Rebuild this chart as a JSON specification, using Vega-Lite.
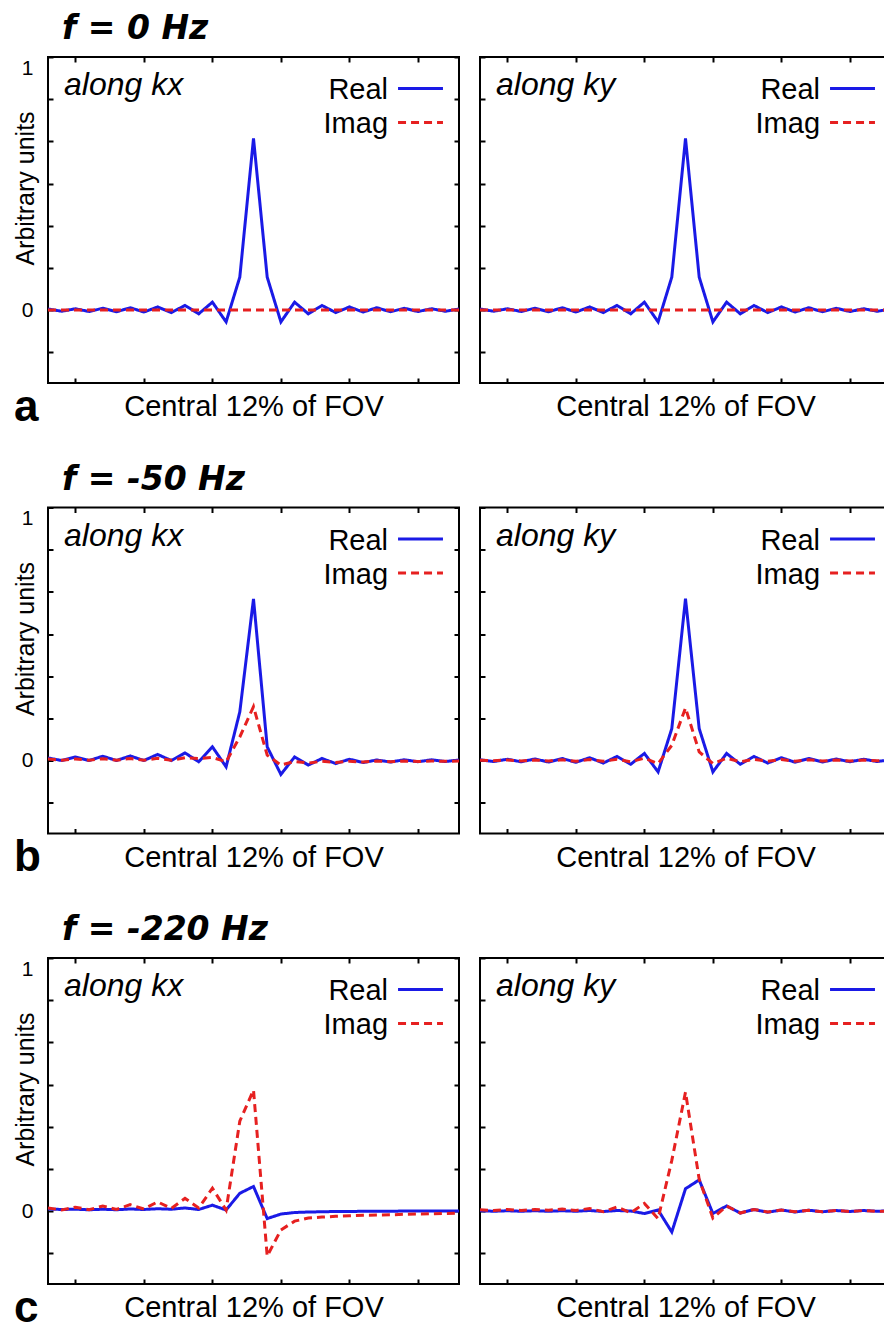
{
"$schema": "https://vega.github.io/schema/vega-lite/v6.json",
"padding": {"left": 12, "top": 13, "right": 0, "bottom": 0},
"config": {
 "view": {"stroke": "black", "strokeWidth": 2},
 "font": "Liberation Sans",
 "axis": {"domain": false, "grid": false, "tickSize": -5, "tickWidth": 2, "tickColor": "black", "labelColor": "black", "titleColor": "black", "labelFont": "Liberation Sans", "titleFont": "Liberation Sans", "titleFontWeight": "normal", "minExtent": 0},
 "text": {"font": "Liberation Sans", "fontSize": 29, "color": "black"},
 "line": {"strokeWidth": 3}
},
"datasets": {
 "akx": [
  {"s":"Real","i":0,"v":0.004},{"s":"Real","i":1,"v":-0.005},{"s":"Real","i":2,"v":0.005},{"s":"Real","i":3,"v":-0.006},{"s":"Real","i":4,"v":0.007},{"s":"Real","i":5,"v":-0.007},{"s":"Real","i":6,"v":0.009},{"s":"Real","i":7,"v":-0.008},{"s":"Real","i":8,"v":0.012},{"s":"Real","i":9,"v":-0.01},{"s":"Real","i":10,"v":0.018},{"s":"Real","i":11,"v":-0.015},{"s":"Real","i":12,"v":0.031},{"s":"Real","i":13,"v":-0.047},{"s":"Real","i":14,"v":0.13},{"s":"Real","i":15,"v":0.678},{"s":"Real","i":16,"v":0.13},{"s":"Real","i":17,"v":-0.047},{"s":"Real","i":18,"v":0.031},{"s":"Real","i":19,"v":-0.015},{"s":"Real","i":20,"v":0.018},{"s":"Real","i":21,"v":-0.01},{"s":"Real","i":22,"v":0.012},{"s":"Real","i":23,"v":-0.008},{"s":"Real","i":24,"v":0.009},{"s":"Real","i":25,"v":-0.007},{"s":"Real","i":26,"v":0.007},{"s":"Real","i":27,"v":-0.006},{"s":"Real","i":28,"v":0.005},{"s":"Real","i":29,"v":-0.005},{"s":"Real","i":30,"v":0.004},
  {"s":"Imag","i":0,"v":0},{"s":"Imag","i":1,"v":0},{"s":"Imag","i":2,"v":0},{"s":"Imag","i":3,"v":0},{"s":"Imag","i":4,"v":0},{"s":"Imag","i":5,"v":0},{"s":"Imag","i":6,"v":0},{"s":"Imag","i":7,"v":0},{"s":"Imag","i":8,"v":0},{"s":"Imag","i":9,"v":0},{"s":"Imag","i":10,"v":0},{"s":"Imag","i":11,"v":0},{"s":"Imag","i":12,"v":0},{"s":"Imag","i":13,"v":0},{"s":"Imag","i":14,"v":0},{"s":"Imag","i":15,"v":0},{"s":"Imag","i":16,"v":0},{"s":"Imag","i":17,"v":0},{"s":"Imag","i":18,"v":0},{"s":"Imag","i":19,"v":0},{"s":"Imag","i":20,"v":0},{"s":"Imag","i":21,"v":0},{"s":"Imag","i":22,"v":0},{"s":"Imag","i":23,"v":0},{"s":"Imag","i":24,"v":0},{"s":"Imag","i":25,"v":0},{"s":"Imag","i":26,"v":0},{"s":"Imag","i":27,"v":0},{"s":"Imag","i":28,"v":0},{"s":"Imag","i":29,"v":0},{"s":"Imag","i":30,"v":0}
 ],
 "aky": [
  {"s":"Real","i":0,"v":0.004},{"s":"Real","i":1,"v":-0.005},{"s":"Real","i":2,"v":0.005},{"s":"Real","i":3,"v":-0.006},{"s":"Real","i":4,"v":0.007},{"s":"Real","i":5,"v":-0.007},{"s":"Real","i":6,"v":0.009},{"s":"Real","i":7,"v":-0.008},{"s":"Real","i":8,"v":0.012},{"s":"Real","i":9,"v":-0.01},{"s":"Real","i":10,"v":0.018},{"s":"Real","i":11,"v":-0.015},{"s":"Real","i":12,"v":0.031},{"s":"Real","i":13,"v":-0.047},{"s":"Real","i":14,"v":0.13},{"s":"Real","i":15,"v":0.678},{"s":"Real","i":16,"v":0.13},{"s":"Real","i":17,"v":-0.047},{"s":"Real","i":18,"v":0.031},{"s":"Real","i":19,"v":-0.015},{"s":"Real","i":20,"v":0.018},{"s":"Real","i":21,"v":-0.01},{"s":"Real","i":22,"v":0.012},{"s":"Real","i":23,"v":-0.008},{"s":"Real","i":24,"v":0.009},{"s":"Real","i":25,"v":-0.007},{"s":"Real","i":26,"v":0.007},{"s":"Real","i":27,"v":-0.006},{"s":"Real","i":28,"v":0.005},{"s":"Real","i":29,"v":-0.005},{"s":"Real","i":30,"v":0.004},
  {"s":"Imag","i":0,"v":0},{"s":"Imag","i":1,"v":0},{"s":"Imag","i":2,"v":0},{"s":"Imag","i":3,"v":0},{"s":"Imag","i":4,"v":0},{"s":"Imag","i":5,"v":0},{"s":"Imag","i":6,"v":0},{"s":"Imag","i":7,"v":0},{"s":"Imag","i":8,"v":0},{"s":"Imag","i":9,"v":0},{"s":"Imag","i":10,"v":0},{"s":"Imag","i":11,"v":0},{"s":"Imag","i":12,"v":0},{"s":"Imag","i":13,"v":0},{"s":"Imag","i":14,"v":0},{"s":"Imag","i":15,"v":0},{"s":"Imag","i":16,"v":0},{"s":"Imag","i":17,"v":0},{"s":"Imag","i":18,"v":0},{"s":"Imag","i":19,"v":0},{"s":"Imag","i":20,"v":0},{"s":"Imag","i":21,"v":0},{"s":"Imag","i":22,"v":0},{"s":"Imag","i":23,"v":0},{"s":"Imag","i":24,"v":0},{"s":"Imag","i":25,"v":0},{"s":"Imag","i":26,"v":0},{"s":"Imag","i":27,"v":0},{"s":"Imag","i":28,"v":0},{"s":"Imag","i":29,"v":0},{"s":"Imag","i":30,"v":0}
 ],
 "bkx": [
  {"s":"Real","i":0,"v":0.01},{"s":"Real","i":1,"v":0.0},{"s":"Real","i":2,"v":0.014},{"s":"Real","i":3,"v":0.0},{"s":"Real","i":4,"v":0.017},{"s":"Real","i":5,"v":0.0},{"s":"Real","i":6,"v":0.018},{"s":"Real","i":7,"v":0.0},{"s":"Real","i":8,"v":0.024},{"s":"Real","i":9,"v":0.0},{"s":"Real","i":10,"v":0.03},{"s":"Real","i":11,"v":-0.005},{"s":"Real","i":12,"v":0.054},{"s":"Real","i":13,"v":-0.025},{"s":"Real","i":14,"v":0.192},{"s":"Real","i":15,"v":0.639},{"s":"Real","i":16,"v":0.054},{"s":"Real","i":17,"v":-0.055},{"s":"Real","i":18,"v":0.014},{"s":"Real","i":19,"v":-0.018},{"s":"Real","i":20,"v":0.008},{"s":"Real","i":21,"v":-0.012},{"s":"Real","i":22,"v":0.005},{"s":"Real","i":23,"v":-0.008},{"s":"Real","i":24,"v":0.002},{"s":"Real","i":25,"v":-0.006},{"s":"Real","i":26,"v":0.003},{"s":"Real","i":27,"v":-0.005},{"s":"Real","i":28,"v":0.003},{"s":"Real","i":29,"v":-0.004},{"s":"Real","i":30,"v":0.002},
  {"s":"Imag","i":0,"v":0.006},{"s":"Imag","i":1,"v":0.001},{"s":"Imag","i":2,"v":0.006},{"s":"Imag","i":3,"v":0.001},{"s":"Imag","i":4,"v":0.007},{"s":"Imag","i":5,"v":0.001},{"s":"Imag","i":6,"v":0.008},{"s":"Imag","i":7,"v":0.001},{"s":"Imag","i":8,"v":0.009},{"s":"Imag","i":9,"v":0.001},{"s":"Imag","i":10,"v":0.011},{"s":"Imag","i":11,"v":0.008},{"s":"Imag","i":12,"v":0.012},{"s":"Imag","i":13,"v":-0.005},{"s":"Imag","i":14,"v":0.093},{"s":"Imag","i":15,"v":0.213},{"s":"Imag","i":16,"v":0.021},{"s":"Imag","i":17,"v":-0.018},{"s":"Imag","i":18,"v":-0.004},{"s":"Imag","i":19,"v":-0.01},{"s":"Imag","i":20,"v":-0.003},{"s":"Imag","i":21,"v":-0.008},{"s":"Imag","i":22,"v":-0.003},{"s":"Imag","i":23,"v":-0.006},{"s":"Imag","i":24,"v":-0.002},{"s":"Imag","i":25,"v":-0.005},{"s":"Imag","i":26,"v":-0.002},{"s":"Imag","i":27,"v":-0.004},{"s":"Imag","i":28,"v":-0.002},{"s":"Imag","i":29,"v":-0.003},{"s":"Imag","i":30,"v":-0.002}
 ],
 "bky": [
  {"s":"Real","i":0,"v":0.003},{"s":"Real","i":1,"v":-0.004},{"s":"Real","i":2,"v":0.005},{"s":"Real","i":3,"v":-0.005},{"s":"Real","i":4,"v":0.006},{"s":"Real","i":5,"v":-0.006},{"s":"Real","i":6,"v":0.008},{"s":"Real","i":7,"v":-0.007},{"s":"Real","i":8,"v":0.011},{"s":"Real","i":9,"v":-0.01},{"s":"Real","i":10,"v":0.016},{"s":"Real","i":11,"v":-0.015},{"s":"Real","i":12,"v":0.028},{"s":"Real","i":13,"v":-0.045},{"s":"Real","i":14,"v":0.126},{"s":"Real","i":15,"v":0.64},{"s":"Real","i":16,"v":0.126},{"s":"Real","i":17,"v":-0.045},{"s":"Real","i":18,"v":0.028},{"s":"Real","i":19,"v":-0.015},{"s":"Real","i":20,"v":0.016},{"s":"Real","i":21,"v":-0.01},{"s":"Real","i":22,"v":0.011},{"s":"Real","i":23,"v":-0.007},{"s":"Real","i":24,"v":0.008},{"s":"Real","i":25,"v":-0.006},{"s":"Real","i":26,"v":0.006},{"s":"Real","i":27,"v":-0.005},{"s":"Real","i":28,"v":0.005},{"s":"Real","i":29,"v":-0.004},{"s":"Real","i":30,"v":0.003},
  {"s":"Imag","i":0,"v":0.001},{"s":"Imag","i":1,"v":-0.001},{"s":"Imag","i":2,"v":0.002},{"s":"Imag","i":3,"v":-0.002},{"s":"Imag","i":4,"v":0.002},{"s":"Imag","i":5,"v":-0.002},{"s":"Imag","i":6,"v":0.003},{"s":"Imag","i":7,"v":-0.003},{"s":"Imag","i":8,"v":0.004},{"s":"Imag","i":9,"v":-0.003},{"s":"Imag","i":10,"v":0.005},{"s":"Imag","i":11,"v":-0.005},{"s":"Imag","i":12,"v":0.009},{"s":"Imag","i":13,"v":-0.012},{"s":"Imag","i":14,"v":0.06},{"s":"Imag","i":15,"v":0.208},{"s":"Imag","i":16,"v":0.034},{"s":"Imag","i":17,"v":-0.012},{"s":"Imag","i":18,"v":0.009},{"s":"Imag","i":19,"v":-0.005},{"s":"Imag","i":20,"v":0.005},{"s":"Imag","i":21,"v":-0.003},{"s":"Imag","i":22,"v":0.004},{"s":"Imag","i":23,"v":-0.003},{"s":"Imag","i":24,"v":0.003},{"s":"Imag","i":25,"v":-0.002},{"s":"Imag","i":26,"v":0.002},{"s":"Imag","i":27,"v":-0.002},{"s":"Imag","i":28,"v":0.002},{"s":"Imag","i":29,"v":-0.001},{"s":"Imag","i":30,"v":0.001}
 ],
 "ckx": [
  {"s":"Real","i":0,"v":0.008},{"s":"Real","i":1,"v":0.006},{"s":"Real","i":2,"v":0.007},{"s":"Real","i":3,"v":0.005},{"s":"Real","i":4,"v":0.007},{"s":"Real","i":5,"v":0.005},{"s":"Real","i":6,"v":0.008},{"s":"Real","i":7,"v":0.006},{"s":"Real","i":8,"v":0.009},{"s":"Real","i":9,"v":0.007},{"s":"Real","i":10,"v":0.012},{"s":"Real","i":11,"v":0.006},{"s":"Real","i":12,"v":0.023},{"s":"Real","i":13,"v":0.004},{"s":"Real","i":14,"v":0.07},{"s":"Real","i":15,"v":0.097},{"s":"Real","i":16,"v":-0.03},{"s":"Real","i":17,"v":-0.012},{"s":"Real","i":18,"v":-0.006},{"s":"Real","i":19,"v":-0.004},{"s":"Real","i":20,"v":-0.003},{"s":"Real","i":21,"v":-0.002},{"s":"Real","i":22,"v":-0.002},{"s":"Real","i":23,"v":-0.001},{"s":"Real","i":24,"v":-0.001},{"s":"Real","i":25,"v":-0.001},{"s":"Real","i":26,"v":0},{"s":"Real","i":27,"v":0},{"s":"Real","i":28,"v":0},{"s":"Real","i":29,"v":0},{"s":"Real","i":30,"v":0},
  {"s":"Imag","i":0,"v":0.012},{"s":"Imag","i":1,"v":0.004},{"s":"Imag","i":2,"v":0.015},{"s":"Imag","i":3,"v":0.005},{"s":"Imag","i":4,"v":0.02},{"s":"Imag","i":5,"v":0.006},{"s":"Imag","i":6,"v":0.025},{"s":"Imag","i":7,"v":0.008},{"s":"Imag","i":8,"v":0.036},{"s":"Imag","i":9,"v":0.01},{"s":"Imag","i":10,"v":0.05},{"s":"Imag","i":11,"v":0.012},{"s":"Imag","i":12,"v":0.09},{"s":"Imag","i":13,"v":0.004},{"s":"Imag","i":14,"v":0.355},{"s":"Imag","i":15,"v":0.478},{"s":"Imag","i":16,"v":-0.178},{"s":"Imag","i":17,"v":-0.075},{"s":"Imag","i":18,"v":-0.04},{"s":"Imag","i":19,"v":-0.028},{"s":"Imag","i":20,"v":-0.024},{"s":"Imag","i":21,"v":-0.021},{"s":"Imag","i":22,"v":-0.019},{"s":"Imag","i":23,"v":-0.017},{"s":"Imag","i":24,"v":-0.016},{"s":"Imag","i":25,"v":-0.015},{"s":"Imag","i":26,"v":-0.013},{"s":"Imag","i":27,"v":-0.012},{"s":"Imag","i":28,"v":-0.011},{"s":"Imag","i":29,"v":-0.01},{"s":"Imag","i":30,"v":-0.009}
 ],
 "cky": [
  {"s":"Real","i":0,"v":0.001},{"s":"Real","i":1,"v":-0.001},{"s":"Real","i":2,"v":0.001},{"s":"Real","i":3,"v":-0.001},{"s":"Real","i":4,"v":0.001},{"s":"Real","i":5,"v":-0.001},{"s":"Real","i":6,"v":0.001},{"s":"Real","i":7,"v":-0.001},{"s":"Real","i":8,"v":0.002},{"s":"Real","i":9,"v":-0.002},{"s":"Real","i":10,"v":0.002},{"s":"Real","i":11,"v":0.0},{"s":"Real","i":12,"v":-0.01},{"s":"Real","i":13,"v":0.004},{"s":"Real","i":14,"v":-0.083},{"s":"Real","i":15,"v":0.088},{"s":"Real","i":16,"v":0.123},{"s":"Real","i":17,"v":-0.01},{"s":"Real","i":18,"v":0.02},{"s":"Real","i":19,"v":-0.008},{"s":"Real","i":20,"v":0.006},{"s":"Real","i":21,"v":-0.005},{"s":"Real","i":22,"v":0.004},{"s":"Real","i":23,"v":-0.004},{"s":"Real","i":24,"v":0.003},{"s":"Real","i":25,"v":-0.003},{"s":"Real","i":26,"v":0.002},{"s":"Real","i":27,"v":-0.002},{"s":"Real","i":28,"v":0.002},{"s":"Real","i":29,"v":-0.001},{"s":"Real","i":30,"v":0.001},
  {"s":"Imag","i":0,"v":0.005},{"s":"Imag","i":1,"v":0.002},{"s":"Imag","i":2,"v":0.006},{"s":"Imag","i":3,"v":0.002},{"s":"Imag","i":4,"v":0.006},{"s":"Imag","i":5,"v":0.003},{"s":"Imag","i":6,"v":0.008},{"s":"Imag","i":7,"v":0.002},{"s":"Imag","i":8,"v":0.01},{"s":"Imag","i":9,"v":-0.003},{"s":"Imag","i":10,"v":0.016},{"s":"Imag","i":11,"v":-0.007},{"s":"Imag","i":12,"v":0.03},{"s":"Imag","i":13,"v":-0.03},{"s":"Imag","i":14,"v":0.2},{"s":"Imag","i":15,"v":0.47},{"s":"Imag","i":16,"v":0.125},{"s":"Imag","i":17,"v":-0.028},{"s":"Imag","i":18,"v":0.02},{"s":"Imag","i":19,"v":-0.008},{"s":"Imag","i":20,"v":0.006},{"s":"Imag","i":21,"v":-0.004},{"s":"Imag","i":22,"v":0.004},{"s":"Imag","i":23,"v":-0.003},{"s":"Imag","i":24,"v":0.003},{"s":"Imag","i":25,"v":-0.003},{"s":"Imag","i":26,"v":0.002},{"s":"Imag","i":27,"v":-0.002},{"s":"Imag","i":28,"v":0.002},{"s":"Imag","i":29,"v":-0.002},{"s":"Imag","i":30,"v":0.001}
 ]
},
"spacing": 32.5,
"vconcat": [
 {
  "title": {"text": "f = 0 Hz", "anchor": "start", "frame": "group", "dx": 14, "offset": -17, "baseline": "alphabetic", "font": "DejaVu Sans", "fontSize": 33, "fontWeight": "bold", "fontStyle": "italic", "color": "black"},
  "spacing": 17,
  "hconcat": [
   {
    "width": 411, "height": 326,
    "title": {"text": "a", "orient": "bottom", "anchor": "start", "frame": "group", "dx": -34, "offset": -1, "baseline": "alphabetic", "font": "Liberation Sans", "fontSize": 44, "fontWeight": "bold", "fontStyle": "normal", "color": "black"},
    "resolve": {"axis": {"x": "independent", "y": "independent"}},
    "layer": [
     {"data": {"name": "akx"}, "mark": {"type": "line", "clip": true},
      "encoding": {
       "x": {"field": "i", "type": "quantitative", "scale": {"domain": [0, 30], "nice": false, "zero": false}, "axis": {"orient": "bottom", "values": [2, 7, 12, 17, 22, 27], "labels": false, "title": "Central 12% of FOV", "titleFontSize": 29, "titleBaseline": "top", "titleY": 9.5}},
       "y": {"field": "v", "type": "quantitative", "scale": {"domain": [-0.2885, 1], "nice": false, "zero": false}, "axis": {"orient": "left", "values": [-0.16667, 0, 0.16667, 0.33333, 0.5, 0.66667, 0.83333, 1], "labelExpr": "datum.value == 0 ? '0' : (datum.value == 1 ? '1' : '')", "labelOverlap": false, "labelFontSize": 21, "labelPadding": 20, "labelBaseline": {"condition": {"test": "datum.value == 1", "value": "top"}, "value": "middle"}, "title": "Arbitrary units", "titleFontSize": 25, "titleX": -10, "titleY": 131}},
       "color": {"field": "s", "type": "nominal", "scale": {"domain": ["Real", "Imag"], "range": ["#1a1ae6", "#e62020"]}, "legend": null},
       "strokeDash": {"field": "s", "type": "nominal", "scale": {"domain": ["Real", "Imag"], "range": [[1, 0], [8, 5]]}, "legend": null}
      }},
     {"data": {"values": [{}]}, "mark": {"type": "text", "text": "along kx", "align": "left", "baseline": "middle", "fontSize": 32, "fontStyle": "italic"},
      "encoding": {
       "x": {"datum": 1.17, "type": "quantitative", "axis": {"orient": "top", "values": [2, 7, 12, 17, 22, 27], "labels": false, "title": null}},
       "y": {"datum": 0.889, "type": "quantitative", "axis": {"orient": "right", "values": [-0.16667, 0, 0.16667, 0.33333, 0.5, 0.66667, 0.83333, 1], "labels": false, "title": null}}
      }},
     {"data": {"values": [{}]}, "mark": {"type": "text", "text": "Real", "align": "right", "baseline": "middle"},
      "encoding": {"x": {"datum": 24.82, "type": "quantitative", "axis": null}, "y": {"datum": 0.869, "type": "quantitative", "axis": null}}},
     {"data": {"values": [{}]}, "mark": {"type": "text", "text": "Imag", "align": "right", "baseline": "middle"},
      "encoding": {"x": {"datum": 24.82, "type": "quantitative", "axis": null}, "y": {"datum": 0.735, "type": "quantitative", "axis": null}}},
     {"data": {"values": [{}]}, "mark": {"type": "rule", "color": "#1a1ae6", "strokeWidth": 3},
      "encoding": {"x": {"datum": 25.55, "type": "quantitative", "axis": null}, "x2": {"datum": 28.83}, "y": {"datum": 0.8757, "type": "quantitative", "axis": null}}},
     {"data": {"values": [{}]}, "mark": {"type": "rule", "color": "#e62020", "strokeWidth": 3, "strokeDash": [8, 5]},
      "encoding": {"x": {"datum": 25.55, "type": "quantitative", "axis": null}, "x2": {"datum": 28.83}, "y": {"datum": 0.7416, "type": "quantitative", "axis": null}}}
    ]
   },
   {
    "width": 411, "height": 326,
    "resolve": {"axis": {"x": "independent", "y": "independent"}},
    "layer": [
     {"data": {"name": "aky"}, "mark": {"type": "line", "clip": true},
      "encoding": {
       "x": {"field": "i", "type": "quantitative", "scale": {"domain": [0, 30], "nice": false, "zero": false}, "axis": {"orient": "bottom", "values": [2, 7, 12, 17, 22, 27], "labels": false, "title": "Central 12% of FOV", "titleFontSize": 29, "titleBaseline": "top", "titleY": 9.5}},
       "y": {"field": "v", "type": "quantitative", "scale": {"domain": [-0.2885, 1], "nice": false, "zero": false}, "axis": {"orient": "left", "values": [-0.16667, 0, 0.16667, 0.33333, 0.5, 0.66667, 0.83333, 1], "labels": false, "title": null}},
       "color": {"field": "s", "type": "nominal", "scale": {"domain": ["Real", "Imag"], "range": ["#1a1ae6", "#e62020"]}, "legend": null},
       "strokeDash": {"field": "s", "type": "nominal", "scale": {"domain": ["Real", "Imag"], "range": [[1, 0], [8, 5]]}, "legend": null}
      }},
     {"data": {"values": [{}]}, "mark": {"type": "text", "text": "along ky", "align": "left", "baseline": "middle", "fontSize": 32, "fontStyle": "italic"},
      "encoding": {
       "x": {"datum": 1.17, "type": "quantitative", "axis": {"orient": "top", "values": [2, 7, 12, 17, 22, 27], "labels": false, "title": null}},
       "y": {"datum": 0.889, "type": "quantitative", "axis": {"orient": "right", "values": [-0.16667, 0, 0.16667, 0.33333, 0.5, 0.66667, 0.83333, 1], "labels": false, "title": null}}
      }},
     {"data": {"values": [{}]}, "mark": {"type": "text", "text": "Real", "align": "right", "baseline": "middle"},
      "encoding": {"x": {"datum": 24.82, "type": "quantitative", "axis": null}, "y": {"datum": 0.869, "type": "quantitative", "axis": null}}},
     {"data": {"values": [{}]}, "mark": {"type": "text", "text": "Imag", "align": "right", "baseline": "middle"},
      "encoding": {"x": {"datum": 24.82, "type": "quantitative", "axis": null}, "y": {"datum": 0.735, "type": "quantitative", "axis": null}}},
     {"data": {"values": [{}]}, "mark": {"type": "rule", "color": "#1a1ae6", "strokeWidth": 3},
      "encoding": {"x": {"datum": 25.55, "type": "quantitative", "axis": null}, "x2": {"datum": 28.83}, "y": {"datum": 0.8757, "type": "quantitative", "axis": null}}},
     {"data": {"values": [{}]}, "mark": {"type": "rule", "color": "#e62020", "strokeWidth": 3, "strokeDash": [8, 5]},
      "encoding": {"x": {"datum": 25.55, "type": "quantitative", "axis": null}, "x2": {"datum": 28.83}, "y": {"datum": 0.7416, "type": "quantitative", "axis": null}}}
    ]
   }
  ]
 },
 {
  "title": {"text": "f = -50 Hz", "anchor": "start", "frame": "group", "dx": 14, "offset": -17, "baseline": "alphabetic", "font": "DejaVu Sans", "fontSize": 33, "fontWeight": "bold", "fontStyle": "italic", "color": "black"},
  "spacing": 17,
  "hconcat": [
   {
    "width": 411, "height": 326,
    "title": {"text": "b", "orient": "bottom", "anchor": "start", "frame": "group", "dx": -34, "offset": -1, "baseline": "alphabetic", "font": "Liberation Sans", "fontSize": 44, "fontWeight": "bold", "fontStyle": "normal", "color": "black"},
    "resolve": {"axis": {"x": "independent", "y": "independent"}},
    "layer": [
     {"data": {"name": "bkx"}, "mark": {"type": "line", "clip": true},
      "encoding": {
       "x": {"field": "i", "type": "quantitative", "scale": {"domain": [0, 30], "nice": false, "zero": false}, "axis": {"orient": "bottom", "values": [2, 7, 12, 17, 22, 27], "labels": false, "title": "Central 12% of FOV", "titleFontSize": 29, "titleBaseline": "top", "titleY": 9.5}},
       "y": {"field": "v", "type": "quantitative", "scale": {"domain": [-0.2885, 1], "nice": false, "zero": false}, "axis": {"orient": "left", "values": [-0.16667, 0, 0.16667, 0.33333, 0.5, 0.66667, 0.83333, 1], "labelExpr": "datum.value == 0 ? '0' : (datum.value == 1 ? '1' : '')", "labelOverlap": false, "labelFontSize": 21, "labelPadding": 20, "labelBaseline": {"condition": {"test": "datum.value == 1", "value": "top"}, "value": "middle"}, "title": "Arbitrary units", "titleFontSize": 25, "titleX": -10, "titleY": 131}},
       "color": {"field": "s", "type": "nominal", "scale": {"domain": ["Real", "Imag"], "range": ["#1a1ae6", "#e62020"]}, "legend": null},
       "strokeDash": {"field": "s", "type": "nominal", "scale": {"domain": ["Real", "Imag"], "range": [[1, 0], [8, 5]]}, "legend": null}
      }},
     {"data": {"values": [{}]}, "mark": {"type": "text", "text": "along kx", "align": "left", "baseline": "middle", "fontSize": 32, "fontStyle": "italic"},
      "encoding": {
       "x": {"datum": 1.17, "type": "quantitative", "axis": {"orient": "top", "values": [2, 7, 12, 17, 22, 27], "labels": false, "title": null}},
       "y": {"datum": 0.889, "type": "quantitative", "axis": {"orient": "right", "values": [-0.16667, 0, 0.16667, 0.33333, 0.5, 0.66667, 0.83333, 1], "labels": false, "title": null}}
      }},
     {"data": {"values": [{}]}, "mark": {"type": "text", "text": "Real", "align": "right", "baseline": "middle"},
      "encoding": {"x": {"datum": 24.82, "type": "quantitative", "axis": null}, "y": {"datum": 0.869, "type": "quantitative", "axis": null}}},
     {"data": {"values": [{}]}, "mark": {"type": "text", "text": "Imag", "align": "right", "baseline": "middle"},
      "encoding": {"x": {"datum": 24.82, "type": "quantitative", "axis": null}, "y": {"datum": 0.735, "type": "quantitative", "axis": null}}},
     {"data": {"values": [{}]}, "mark": {"type": "rule", "color": "#1a1ae6", "strokeWidth": 3},
      "encoding": {"x": {"datum": 25.55, "type": "quantitative", "axis": null}, "x2": {"datum": 28.83}, "y": {"datum": 0.8757, "type": "quantitative", "axis": null}}},
     {"data": {"values": [{}]}, "mark": {"type": "rule", "color": "#e62020", "strokeWidth": 3, "strokeDash": [8, 5]},
      "encoding": {"x": {"datum": 25.55, "type": "quantitative", "axis": null}, "x2": {"datum": 28.83}, "y": {"datum": 0.7416, "type": "quantitative", "axis": null}}}
    ]
   },
   {
    "width": 411, "height": 326,
    "resolve": {"axis": {"x": "independent", "y": "independent"}},
    "layer": [
     {"data": {"name": "bky"}, "mark": {"type": "line", "clip": true},
      "encoding": {
       "x": {"field": "i", "type": "quantitative", "scale": {"domain": [0, 30], "nice": false, "zero": false}, "axis": {"orient": "bottom", "values": [2, 7, 12, 17, 22, 27], "labels": false, "title": "Central 12% of FOV", "titleFontSize": 29, "titleBaseline": "top", "titleY": 9.5}},
       "y": {"field": "v", "type": "quantitative", "scale": {"domain": [-0.2885, 1], "nice": false, "zero": false}, "axis": {"orient": "left", "values": [-0.16667, 0, 0.16667, 0.33333, 0.5, 0.66667, 0.83333, 1], "labels": false, "title": null}},
       "color": {"field": "s", "type": "nominal", "scale": {"domain": ["Real", "Imag"], "range": ["#1a1ae6", "#e62020"]}, "legend": null},
       "strokeDash": {"field": "s", "type": "nominal", "scale": {"domain": ["Real", "Imag"], "range": [[1, 0], [8, 5]]}, "legend": null}
      }},
     {"data": {"values": [{}]}, "mark": {"type": "text", "text": "along ky", "align": "left", "baseline": "middle", "fontSize": 32, "fontStyle": "italic"},
      "encoding": {
       "x": {"datum": 1.17, "type": "quantitative", "axis": {"orient": "top", "values": [2, 7, 12, 17, 22, 27], "labels": false, "title": null}},
       "y": {"datum": 0.889, "type": "quantitative", "axis": {"orient": "right", "values": [-0.16667, 0, 0.16667, 0.33333, 0.5, 0.66667, 0.83333, 1], "labels": false, "title": null}}
      }},
     {"data": {"values": [{}]}, "mark": {"type": "text", "text": "Real", "align": "right", "baseline": "middle"},
      "encoding": {"x": {"datum": 24.82, "type": "quantitative", "axis": null}, "y": {"datum": 0.869, "type": "quantitative", "axis": null}}},
     {"data": {"values": [{}]}, "mark": {"type": "text", "text": "Imag", "align": "right", "baseline": "middle"},
      "encoding": {"x": {"datum": 24.82, "type": "quantitative", "axis": null}, "y": {"datum": 0.735, "type": "quantitative", "axis": null}}},
     {"data": {"values": [{}]}, "mark": {"type": "rule", "color": "#1a1ae6", "strokeWidth": 3},
      "encoding": {"x": {"datum": 25.55, "type": "quantitative", "axis": null}, "x2": {"datum": 28.83}, "y": {"datum": 0.8757, "type": "quantitative", "axis": null}}},
     {"data": {"values": [{}]}, "mark": {"type": "rule", "color": "#e62020", "strokeWidth": 3, "strokeDash": [8, 5]},
      "encoding": {"x": {"datum": 25.55, "type": "quantitative", "axis": null}, "x2": {"datum": 28.83}, "y": {"datum": 0.7416, "type": "quantitative", "axis": null}}}
    ]
   }
  ]
 },
 {
  "title": {"text": "f = -220 Hz", "anchor": "start", "frame": "group", "dx": 14, "offset": -17, "baseline": "alphabetic", "font": "DejaVu Sans", "fontSize": 33, "fontWeight": "bold", "fontStyle": "italic", "color": "black"},
  "spacing": 17,
  "hconcat": [
   {
    "width": 411, "height": 326,
    "title": {"text": "c", "orient": "bottom", "anchor": "start", "frame": "group", "dx": -34, "offset": -1, "baseline": "alphabetic", "font": "Liberation Sans", "fontSize": 44, "fontWeight": "bold", "fontStyle": "normal", "color": "black"},
    "resolve": {"axis": {"x": "independent", "y": "independent"}},
    "layer": [
     {"data": {"name": "ckx"}, "mark": {"type": "line", "clip": true},
      "encoding": {
       "x": {"field": "i", "type": "quantitative", "scale": {"domain": [0, 30], "nice": false, "zero": false}, "axis": {"orient": "bottom", "values": [2, 7, 12, 17, 22, 27], "labels": false, "title": "Central 12% of FOV", "titleFontSize": 29, "titleBaseline": "top", "titleY": 9.5}},
       "y": {"field": "v", "type": "quantitative", "scale": {"domain": [-0.2885, 1], "nice": false, "zero": false}, "axis": {"orient": "left", "values": [-0.16667, 0, 0.16667, 0.33333, 0.5, 0.66667, 0.83333, 1], "labelExpr": "datum.value == 0 ? '0' : (datum.value == 1 ? '1' : '')", "labelOverlap": false, "labelFontSize": 21, "labelPadding": 20, "labelBaseline": {"condition": {"test": "datum.value == 1", "value": "top"}, "value": "middle"}, "title": "Arbitrary units", "titleFontSize": 25, "titleX": -10, "titleY": 131}},
       "color": {"field": "s", "type": "nominal", "scale": {"domain": ["Real", "Imag"], "range": ["#1a1ae6", "#e62020"]}, "legend": null},
       "strokeDash": {"field": "s", "type": "nominal", "scale": {"domain": ["Real", "Imag"], "range": [[1, 0], [8, 5]]}, "legend": null}
      }},
     {"data": {"values": [{}]}, "mark": {"type": "text", "text": "along kx", "align": "left", "baseline": "middle", "fontSize": 32, "fontStyle": "italic"},
      "encoding": {
       "x": {"datum": 1.17, "type": "quantitative", "axis": {"orient": "top", "values": [2, 7, 12, 17, 22, 27], "labels": false, "title": null}},
       "y": {"datum": 0.889, "type": "quantitative", "axis": {"orient": "right", "values": [-0.16667, 0, 0.16667, 0.33333, 0.5, 0.66667, 0.83333, 1], "labels": false, "title": null}}
      }},
     {"data": {"values": [{}]}, "mark": {"type": "text", "text": "Real", "align": "right", "baseline": "middle"},
      "encoding": {"x": {"datum": 24.82, "type": "quantitative", "axis": null}, "y": {"datum": 0.869, "type": "quantitative", "axis": null}}},
     {"data": {"values": [{}]}, "mark": {"type": "text", "text": "Imag", "align": "right", "baseline": "middle"},
      "encoding": {"x": {"datum": 24.82, "type": "quantitative", "axis": null}, "y": {"datum": 0.735, "type": "quantitative", "axis": null}}},
     {"data": {"values": [{}]}, "mark": {"type": "rule", "color": "#1a1ae6", "strokeWidth": 3},
      "encoding": {"x": {"datum": 25.55, "type": "quantitative", "axis": null}, "x2": {"datum": 28.83}, "y": {"datum": 0.8757, "type": "quantitative", "axis": null}}},
     {"data": {"values": [{}]}, "mark": {"type": "rule", "color": "#e62020", "strokeWidth": 3, "strokeDash": [8, 5]},
      "encoding": {"x": {"datum": 25.55, "type": "quantitative", "axis": null}, "x2": {"datum": 28.83}, "y": {"datum": 0.7416, "type": "quantitative", "axis": null}}}
    ]
   },
   {
    "width": 411, "height": 326,
    "resolve": {"axis": {"x": "independent", "y": "independent"}},
    "layer": [
     {"data": {"name": "cky"}, "mark": {"type": "line", "clip": true},
      "encoding": {
       "x": {"field": "i", "type": "quantitative", "scale": {"domain": [0, 30], "nice": false, "zero": false}, "axis": {"orient": "bottom", "values": [2, 7, 12, 17, 22, 27], "labels": false, "title": "Central 12% of FOV", "titleFontSize": 29, "titleBaseline": "top", "titleY": 9.5}},
       "y": {"field": "v", "type": "quantitative", "scale": {"domain": [-0.2885, 1], "nice": false, "zero": false}, "axis": {"orient": "left", "values": [-0.16667, 0, 0.16667, 0.33333, 0.5, 0.66667, 0.83333, 1], "labels": false, "title": null}},
       "color": {"field": "s", "type": "nominal", "scale": {"domain": ["Real", "Imag"], "range": ["#1a1ae6", "#e62020"]}, "legend": null},
       "strokeDash": {"field": "s", "type": "nominal", "scale": {"domain": ["Real", "Imag"], "range": [[1, 0], [8, 5]]}, "legend": null}
      }},
     {"data": {"values": [{}]}, "mark": {"type": "text", "text": "along ky", "align": "left", "baseline": "middle", "fontSize": 32, "fontStyle": "italic"},
      "encoding": {
       "x": {"datum": 1.17, "type": "quantitative", "axis": {"orient": "top", "values": [2, 7, 12, 17, 22, 27], "labels": false, "title": null}},
       "y": {"datum": 0.889, "type": "quantitative", "axis": {"orient": "right", "values": [-0.16667, 0, 0.16667, 0.33333, 0.5, 0.66667, 0.83333, 1], "labels": false, "title": null}}
      }},
     {"data": {"values": [{}]}, "mark": {"type": "text", "text": "Real", "align": "right", "baseline": "middle"},
      "encoding": {"x": {"datum": 24.82, "type": "quantitative", "axis": null}, "y": {"datum": 0.869, "type": "quantitative", "axis": null}}},
     {"data": {"values": [{}]}, "mark": {"type": "text", "text": "Imag", "align": "right", "baseline": "middle"},
      "encoding": {"x": {"datum": 24.82, "type": "quantitative", "axis": null}, "y": {"datum": 0.735, "type": "quantitative", "axis": null}}},
     {"data": {"values": [{}]}, "mark": {"type": "rule", "color": "#1a1ae6", "strokeWidth": 3},
      "encoding": {"x": {"datum": 25.55, "type": "quantitative", "axis": null}, "x2": {"datum": 28.83}, "y": {"datum": 0.8757, "type": "quantitative", "axis": null}}},
     {"data": {"values": [{}]}, "mark": {"type": "rule", "color": "#e62020", "strokeWidth": 3, "strokeDash": [8, 5]},
      "encoding": {"x": {"datum": 25.55, "type": "quantitative", "axis": null}, "x2": {"datum": 28.83}, "y": {"datum": 0.7416, "type": "quantitative", "axis": null}}}
    ]
   }
  ]
 }
]
}
